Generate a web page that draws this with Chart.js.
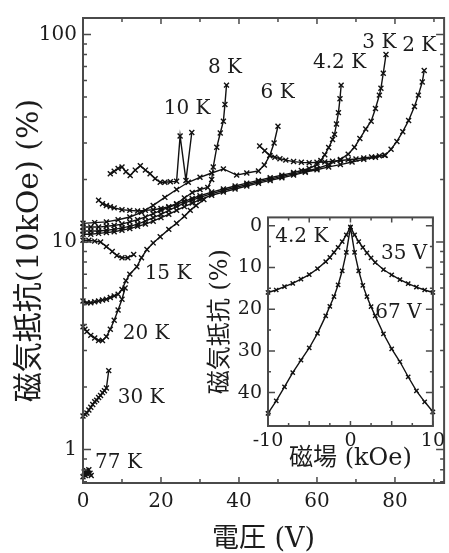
<!DOCTYPE html>
<html><head><meta charset="utf-8">
<script src="https://cdn.jsdelivr.net/npm/chart.js@4"></script>
<style>
html,body{margin:0;padding:0;background:#fff;overflow:hidden}
#wrap{position:relative;width:449px;height:553px}
#main{position:absolute;left:0;top:0}
#inset{position:absolute;left:200px;top:200px}
</style></head><body>
<div id="wrap"><canvas id="main" width="449" height="553"></canvas><canvas id="inset" width="249" height="272"></canvas></div>
<script>
// ---------- main chart data: voltage (V) vs magnetoresistance at 10 kOe (%) ----------
const v2K  = [0,2,4,6,8,10,12,14,16,18,20,22,24,26,28,30,33,36,39,42,45,48,51,54,57,60,63,66,69,72,75,77.5,79,80.5,82,83.5,85,86,87,87.5];
const mr2K = [10.9,10.9,11,11.1,11.2,11.4,11.6,11.9,12.2,12.6,13.1,13.6,14.2,14.8,15.4,16,16.8,17.4,18,18.6,19.2,19.8,20.4,21,21.7,22.3,23,23.6,24.3,25,25.6,26.2,28,30.5,34,38.5,45,51,59,67];
const v3K  = [0,2,4,6,8,10,12,14,16,18,20,22,24,26,28,30,33,36,39,42,45,48,51,54,57,60,63,66,68,69.6,71,72.5,73.9,75,76,76.4,77,77.7];
const mr3K = [11.3,11.3,11.3,11.4,11.5,11.7,11.9,12.2,12.6,13.1,13.6,14.2,14.8,15.4,15.9,16.4,17.1,17.7,18.3,18.9,19.5,20.1,20.7,21.3,21.9,22.6,23.6,25,26.5,28.6,31.5,35,38.2,44,51,55,65,80];
const v42K  = [0,2,4,6,8,10,12,14,16,18,20,22,24,26,28,30,33,36,39,42,45,48,51,54,56,58,60,61,62,63,64,64.5,65,65.5,65.9,66.2];
const mr42K = [11.8,11.8,11.8,11.9,12,12.2,12.5,12.8,13.2,13.7,14.2,14.7,15.2,15.7,16.2,16.7,17.4,18,18.6,19.2,19.8,20.4,21,21.6,22.1,22.6,23.6,24.7,26.3,28.5,31.2,33,37,42,49,57];
const v6K  = [0,3,6,9,12,15,18,21,24,27,30,33,36,39.4,42,45,46.5,47.9,49,50];
const mr6K = [12.3,12.4,12.5,12.8,13.2,13.9,15,16.4,17.9,19.4,20.5,21.5,22.5,21,21.5,22,23.5,26.1,30,36.1];
const v6Kb  = [45.3,46.6,47.9,49.2,50.5,52,54,56,58,60,62,64,66,68,70,72,74,76,77.3];
const mr6Kb = [29,27.5,26.1,25.6,25.2,24.8,24.4,24.2,24.1,24.2,24.3,24.5,24.7,24.9,25.1,25.4,25.7,26,26.2];
const v8K  = [4,5,6,7,8,10,12,14,16,18,20,22,24,26,28,30,32,33,33.4,34.3,35.2,36,36.4,36.8];
const mr8K = [15.9,15.3,15,14.8,14.6,14.3,14.2,14.1,14.2,14.3,14.5,14.8,15.3,16.3,17.3,17.9,18.3,20,23,28.6,33.5,38.2,46,57];
const v10K  = [7,8,9,10,11,12.1,13.4,14.7,16,17.2,18.5,19.8,21,22.4,24,24.9,26.4,27.9];
const mr10K = [21.3,21.9,22.6,23,21.8,20.9,22.2,23.3,22.2,21.3,20.2,19.4,19.4,19.5,19.6,32.4,19.8,33.7];
const v10Kb  = [0,1.5,3,4.5,6,7.5,8.7,10,11.5,13];
const mr10Kb = [10.2,10.2,10.1,10,9.5,9,8.6,8.4,8.4,8.7];
const v15K  = [0,1,2,3,4,5,6,7,8,9,10,11,12,13.8,15,16.4,18,19.8,22,24,26,27.5,29,31];
const mr15K = [5.2,5.1,5.1,5.15,5.2,5.25,5.3,5.4,5.5,5.6,5.9,6.5,7,7.6,8.4,9.2,9.9,10.6,11.5,12.3,13.3,14.2,15,16];
const v20K  = [0,0.5,1,2,3,4,5,6,7,8,9,10,10.8];
const mr20K = [3.9,3.8,3.7,3.55,3.45,3.35,3.35,3.5,3.8,4.2,4.7,5.3,6];
const v30K  = [0,0.5,1,1.5,2,2.5,3,3.5,4,4.5,5,5.5,6,6.6];
const mr30K = [1.45,1.48,1.5,1.55,1.6,1.65,1.7,1.73,1.78,1.82,1.88,1.92,1.98,2.4];
const v77K  = [0,0.3,0.6,0.9,1.2,1.5,1.8,2.1];
const mr77K = [0.74,0.78,0.75,0.79,0.76,0.8,0.77,0.75];

const xTickVals = [0,10,20,30,40,50,60,70,80,90];
const xLabelVals = [0,20,40,60,80];
const yTickVals = [0.7,0.8,0.9,1,2,3,4,5,6,7,8,9,10,20,30,40,50,60,70,80,90,100];
const yLabelVals = [1,10,100];

const curveText = ['2 K','3 K','4.2 K','6 K','8 K','10 K','15 K','20 K','30 K','77 K'];
const curveTextV = [86.2,76,65.8,49.9,36.4,26.7,21.8,16.2,14.9,9.1];
const curveTextMR = [88.6,91.6,72.8,52.4,68.9,43.9,7.04,3.61,1.77,0.867];

// ---------- inset data: field (kOe) vs magnetoresistance (%) at 4.2 K ----------
const fieldInset = [-10,-9,-8,-7,-6,-5,-4,-3,-2.5,-2,-1.5,-1,-0.5,0,0.5,1,1.5,2,2.5,3,4,5,6,7,8,9,10];
const mr35V = [16,15.4,14.6,13.8,12.8,11.7,10.3,8.6,7.6,6.4,5.2,3.8,2.2,0.3,2.2,3.8,5.2,6.5,7.7,8.8,10.5,11.8,12.9,13.9,14.7,15.4,16];
const mr67V = [45,42,38.6,35.2,32.2,29.3,25.8,21.6,19.3,17,14.2,10.8,6.4,0.4,6.4,10.8,14.3,17,19.4,21.6,25.9,29.5,32.6,36.2,39.6,42.2,44.6];
const insetXTicks = [-10,-7.5,-5,-2.5,0,2.5,5,7.5,10];
const insetXLabels = [-10,0,10];
const insetYTicks = [0,5,10,15,20,25,30,35,40,45];
const insetYLabels = [0,10,20,30,40];
const insetText = ['4.2 K','35 V','67 V'];
const insetTextX = [-5.9,6.5,5.8];
const insetTextY = [2.6,6.8,20.9];

// ---------- styling ----------
const INK = '#111';
const TXT = '#1c1c1c';
const FRAME = '#4a4a4a';
const SERIF = "'DejaVu Serif', 'Noto Sans CJK JP', serif";

function ds(label, xs, ys, r) {
  return {
    label, data: xs.map((x, i) => ({x, y: ys[i]})),
    showLine: true, borderColor: INK, backgroundColor: INK, borderWidth: 1.4,
    pointStyle: 'crossRot', pointRadius: r, pointBorderWidth: 1.4, pointBorderColor: INK,
    pointHoverRadius: r, tension: 0, clip: false
  };
}

function makeFrame(majX, majY, majLen, minLen) {
  return {
    id: 'frame',
    afterDraw(chart) {
      const {ctx, chartArea: a} = chart;
      const xs = chart.scales.x, ys = chart.scales.y;
      ctx.save();
      ctx.strokeStyle = FRAME;
      ctx.lineWidth = 1.5;
      ctx.beginPath();
      xs.ticks.forEach(t => {
        const p = xs.getPixelForValue(t.value);
        const L = majX.includes(t.value) ? majLen : minLen;
        ctx.moveTo(p, a.bottom); ctx.lineTo(p, a.bottom - L);
        ctx.moveTo(p, a.top); ctx.lineTo(p, a.top + L);
      });
      ys.ticks.forEach(t => {
        const p = ys.getPixelForValue(t.value);
        const L = majY.includes(t.value) ? majLen + 2 : minLen;
        ctx.moveTo(a.left, p); ctx.lineTo(a.left + L, p);
        ctx.moveTo(a.right, p); ctx.lineTo(a.right - L, p);
      });
      ctx.stroke();
      ctx.lineWidth = 2;
      ctx.strokeRect(a.left, a.top, a.right - a.left, a.bottom - a.top);
      ctx.restore();
    }
  };
}

function makeTexts(texts, xs, ys, size) {
  return {
    id: 'texts',
    afterDraw(chart) {
      const {ctx} = chart;
      ctx.save();
      ctx.fillStyle = TXT;
      ctx.font = size + 'px ' + SERIF;
      ctx.textAlign = 'center';
      ctx.textBaseline = 'middle';
      texts.forEach((t, i) => {
        ctx.fillText(t, chart.scales.x.getPixelForValue(xs[i]), chart.scales.y.getPixelForValue(ys[i]));
      });
      ctx.restore();
    }
  };
}

Chart.defaults.devicePixelRatio = 1;

new Chart(document.getElementById('main'), {
  type: 'scatter',
  data: {
    datasets: [
      ds('2 K', v2K, mr2K, 3.5), ds('3 K', v3K, mr3K, 3.5), ds('4.2 K', v42K, mr42K, 3.5),
      ds('6 K', v6K, mr6K, 3.5), ds('6 K', v6Kb, mr6Kb, 3.5), ds('8 K', v8K, mr8K, 3.5),
      ds('10 K', v10K, mr10K, 3.5), ds('10 K', v10Kb, mr10Kb, 3.5), ds('15 K', v15K, mr15K, 3.5),
      ds('20 K', v20K, mr20K, 3.5), ds('30 K', v30K, mr30K, 3.5), ds('77 K', v77K, mr77K, 3.5)
    ]
  },
  options: {
    responsive: false, animation: false, events: [],
    layout: {padding: {left: 0, right: 4, top: 13, bottom: 0}},
    plugins: {legend: {display: false}, tooltip: {enabled: false}},
    scales: {
      x: {
        type: 'linear', min: 0, max: 92.6,
        afterBuildTicks: s => { s.ticks = xTickVals.map(v => ({value: v})); },
        afterFit: s => { s.height = 70; },
        grid: {display: false, drawTicks: false}, border: {display: false},
        ticks: {padding: 7, color: TXT, font: {family: SERIF, size: 20}, maxRotation: 0, autoSkip: false,
                callback: v => xLabelVals.includes(v) ? String(v) : ''},
        title: {display: true, text: '電圧 (V)', color: TXT, font: {family: SERIF, size: 27, lineHeight: 1}, padding: {top: 0, bottom: 0}}
      },
      y: {
        type: 'logarithmic', min: 0.69, max: 120,
        afterBuildTicks: s => { s.ticks = yTickVals.map(v => ({value: v})); },
        afterFit: s => { s.width = 83; },
        grid: {display: false, drawTicks: false}, border: {display: false},
        ticks: {padding: 6, color: TXT, font: {family: SERIF, size: 20}, autoSkip: false,
                callback: v => yLabelVals.includes(v) ? String(v) : ''},
        title: {display: true, text: '磁気抵抗(10kOe) (%)', color: TXT, font: {family: SERIF, size: 30, lineHeight: 1}, padding: {top: 15, bottom: 0}}
      }
    }
  },
  plugins: [makeFrame(xLabelVals, yLabelVals, 6, 4), makeTexts(curveText, curveTextV, curveTextMR, 20)]
});

new Chart(document.getElementById('inset'), {
  type: 'scatter',
  data: {
    datasets: [ds('35 V', fieldInset, mr35V, 3), ds('67 V', fieldInset, mr67V, 3)]
  },
  options: {
    responsive: false, animation: false, events: [],
    layout: {padding: {left: 0, right: 16, top: 13, bottom: 0}},
    plugins: {legend: {display: false}, tooltip: {enabled: false}},
    scales: {
      x: {
        type: 'linear', min: -10, max: 10,
        afterBuildTicks: s => { s.ticks = insetXTicks.map(v => ({value: v})); },
        afterFit: s => { s.height = 46; },
        grid: {display: false, drawTicks: false}, border: {display: false},
        ticks: {padding: 4, color: TXT, font: {family: SERIF, size: 19}, maxRotation: 0, autoSkip: false,
                callback: v => insetXLabels.includes(v) ? String(v) : ''},
        title: {display: true, text: '磁場 (kOe)', color: TXT, font: {family: SERIF, size: 24, lineHeight: 1}, padding: {top: 0, bottom: 1}}
      },
      y: {
        type: 'linear', min: -2, max: 48, reverse: true,
        afterBuildTicks: s => { s.ticks = insetYTicks.map(v => ({value: v})); },
        afterFit: s => { s.width = 68; },
        grid: {display: false, drawTicks: false}, border: {display: false},
        ticks: {padding: 6, color: TXT, font: {family: SERIF, size: 19}, autoSkip: false,
                callback: v => insetYLabels.includes(v) ? String(v) : ''},
        title: {display: true, text: '磁気抵抗 (%)', color: TXT, font: {family: SERIF, size: 24, lineHeight: 1}, padding: {top: 9, bottom: 0}}
      }
    }
  },
  plugins: [makeFrame([-10,-5,0,5,10], insetYLabels, 5, 3), makeTexts(insetText, insetTextX, insetTextY, 20)]
});
</script>
</body></html>
